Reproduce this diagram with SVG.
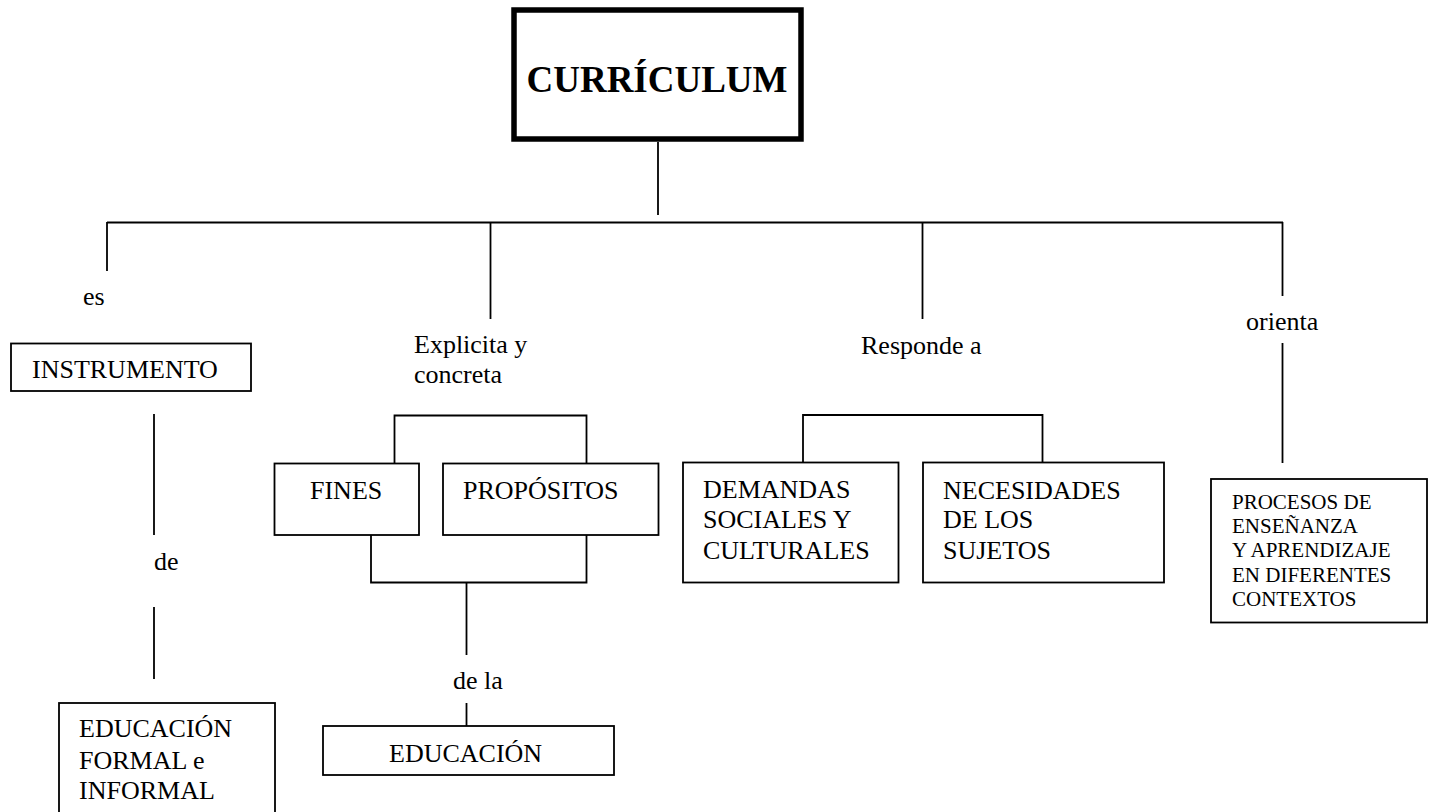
<svg xmlns="http://www.w3.org/2000/svg" width="1432" height="812" viewBox="0 0 1432 812">
<style>
text{font-family:"Liberation Serif","Times New Roman",serif;font-size:26px;fill:#000}
.small{font-size:21px}
.title{font-size:37px;font-weight:bold}
.box{fill:#fff;stroke:#000;stroke-width:1.8}
.thick{fill:#fff;stroke:#000;stroke-width:5.5}
.ln{fill:none;stroke:#000;stroke-width:1.8}
</style>
<rect width="1432" height="812" fill="#fff"/>
<g id="connectors">
<line class="ln" x1="658" y1="142" x2="658" y2="215"/>
<line class="ln" x1="107" y1="222.5" x2="1283" y2="222.5"/>
<line class="ln" x1="107" y1="222" x2="107" y2="271"/>
<line class="ln" x1="490.5" y1="222" x2="490.5" y2="319"/>
<line class="ln" x1="922.5" y1="222" x2="922.5" y2="319"/>
<line class="ln" x1="1282.5" y1="222" x2="1282.5" y2="296"/>
<line class="ln" x1="1282.5" y1="343" x2="1282.5" y2="463"/>
<line class="ln" x1="154" y1="414" x2="154" y2="535"/>
<line class="ln" x1="154" y1="607" x2="154" y2="679"/>
<polyline class="ln" points="394.5,463 394.5,415.5 586.5,415.5 586.5,463"/>
<polyline class="ln" points="371,535 371,582.5 586.5,582.5 586.5,535"/>
<line class="ln" x1="466.5" y1="582" x2="466.5" y2="655"/>
<line class="ln" x1="466.5" y1="703" x2="466.5" y2="726"/>
<polyline class="ln" points="803,462 803,415 1042.5,415 1042.5,462"/>
</g>
<g id="curriculum">
<rect class="thick" x="514" y="10" width="287" height="129"/>
<text class="title" x="657" y="92" text-anchor="middle">CURRÍCULUM</text>
</g>
<g id="lbl-es"><text x="83" y="305">es</text></g>
<g id="lbl-explicita"><text x="414" y="353">Explicita y</text><text x="414" y="383">concreta</text></g>
<g id="lbl-responde"><text x="861" y="354">Responde a</text></g>
<g id="lbl-orienta"><text x="1246" y="330">orienta</text></g>
<g id="instrumento">
<rect class="box" x="11" y="343.5" width="240" height="47.5"/>
<text x="32" y="378">INSTRUMENTO</text>
</g>
<g id="lbl-de"><text x="154" y="570">de</text></g>
<g id="educacion-formal">
<rect class="box" x="59" y="703" width="216" height="120"/>
<text x="79" y="737">EDUCACIÓN</text>
<text x="79" y="769">FORMAL e</text>
<text x="79" y="799">INFORMAL</text>
</g>
<g id="fines">
<rect class="box" x="274.5" y="463.5" width="144.5" height="71.5"/>
<text x="310" y="499">FINES</text>
</g>
<g id="propositos">
<rect class="box" x="443" y="463.5" width="215.5" height="71.5"/>
<text x="463" y="499">PROPÓSITOS</text>
</g>
<g id="lbl-dela"><text x="453" y="689">de la</text></g>
<g id="educacion">
<rect class="box" x="323" y="726" width="291" height="49"/>
<text x="389" y="762">EDUCACIÓN</text>
</g>
<g id="demandas">
<rect class="box" x="683" y="462.5" width="215.5" height="120"/>
<text x="703" y="498">DEMANDAS</text>
<text x="703" y="528">SOCIALES Y</text>
<text x="703" y="559">CULTURALES</text>
</g>
<g id="necesidades">
<rect class="box" x="923" y="462.5" width="241" height="120"/>
<text x="943" y="499">NECESIDADES</text>
<text x="943" y="528">DE LOS</text>
<text x="943" y="559">SUJETOS</text>
</g>
<g id="procesos">
<rect class="box" x="1211" y="479" width="216" height="143.5"/>
<text class="small" x="1232" y="509">PROCESOS DE</text>
<text class="small" x="1232" y="533">ENSEÑANZA</text>
<text class="small" x="1232" y="557">Y APRENDIZAJE</text>
<text class="small" x="1232" y="582">EN DIFERENTES</text>
<text class="small" x="1232" y="606">CONTEXTOS</text>
</g>
</svg>
